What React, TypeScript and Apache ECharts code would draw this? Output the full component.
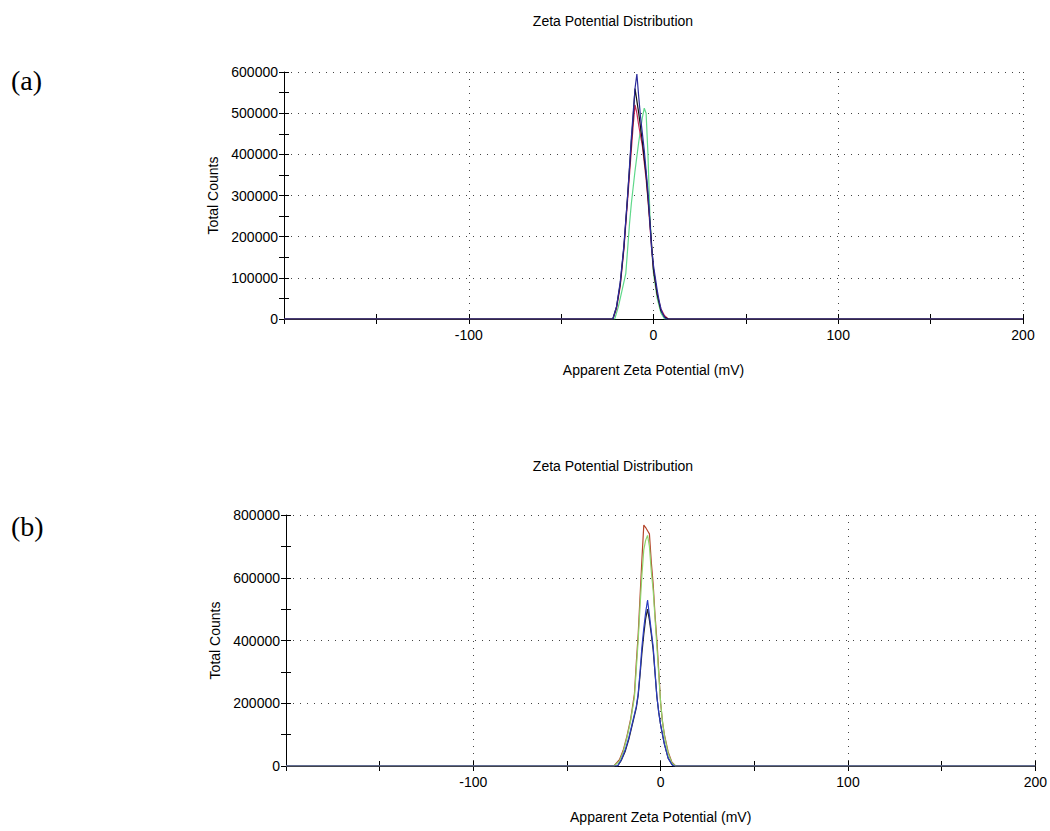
import React, { useEffect, useRef } from "react";
import * as echarts from "echarts";

// ---------- data ----------
const chartTitles = ["Zeta Potential Distribution", "Zeta Potential Distribution"];
const panelLabels = ["(a)", "(b)"];
const xAxisName = "Apparent Zeta Potential (mV)";
const yAxisName = "Total Counts";
const xMin = -200;
const xMax = 200;
const xInterval = 100;
const yMaxA = 600000;
const yIntervalA = 100000;
const yMaxB = 800000;
const yIntervalB = 200000;

// panel (a) runs: [mV, counts]
const aRed: number[][] = [[-200,0],[-22,0],[-20,25000],[-18,80000],[-16,170000],[-14,290000],[-12,410000],[-11,470000],[-10,520000],[-9,500000],[-8,470000],[-6,420000],[-4,340000],[-3,290000],[-2,230000],[-1,170000],[0,120000],[2,60000],[4,25000],[6,8000],[8,0],[200,0]];
const aGreen: number[][] = [[-200,0],[-21,0],[-19,30000],[-17,70000],[-15,110000],[-13,230000],[-12,280000],[-10,360000],[-8,430000],[-6,490000],[-5,512000],[-4,500000],[-3,400000],[-2,260000],[-1,170000],[0,110000],[2,50000],[4,15000],[6,0],[200,0]];
const aBlack: number[][] = [[-200,0],[-22,0],[-20,30000],[-18,85000],[-16,175000],[-14,300000],[-12,430000],[-11,490000],[-10,560000],[-9,530000],[-8,500000],[-6,430000],[-4,350000],[-2,240000],[-1,180000],[0,120000],[2,60000],[4,20000],[6,5000],[8,0],[200,0]];
const aBlue: number[][] = [[-200,0],[-22,0],[-20,30000],[-18,90000],[-16,180000],[-14,300000],[-13,370000],[-12,440000],[-11,500000],[-10,560000],[-9,595000],[-8,540000],[-7,490000],[-6,450000],[-5,410000],[-4,360000],[-3,310000],[-2,240000],[-1,170000],[0,130000],[1,100000],[2,70000],[3,45000],[4,25000],[5,12000],[6,4000],[7,0],[200,0]];

// panel (b) runs
const bRed: number[][] = [[-200,0],[-25,0],[-22,20000],[-20,50000],[-18,95000],[-16,150000],[-15,190000],[-14,230000],[-13,330000],[-12,420000],[-11,540000],[-10,660000],[-9,768000],[-8,760000],[-7,750000],[-6,740000],[-5,650000],[-4,580000],[-3,480000],[-2,400000],[-1,300000],[0,200000],[1,140000],[2,100000],[4,45000],[6,12000],[8,0],[200,0]];
const bGreen: number[][] = [[-200,0],[-25,0],[-22,15000],[-20,45000],[-18,90000],[-16,145000],[-14,220000],[-13,310000],[-12,400000],[-11,510000],[-10,610000],[-9,690000],[-8,720000],[-7,735000],[-6,700000],[-5,620000],[-4,560000],[-3,470000],[-2,380000],[-1,290000],[0,200000],[1,140000],[2,95000],[4,40000],[6,10000],[8,0],[200,0]];
const bBlack: number[][] = [[-200,0],[-23,0],[-21,18000],[-19,45000],[-17,85000],[-15,135000],[-13,185000],[-12,225000],[-11,290000],[-10,360000],[-9,420000],[-8,470000],[-7,500000],[-6,465000],[-5,420000],[-4,370000],[-3,295000],[-2,220000],[-1,170000],[0,130000],[2,70000],[4,25000],[6,5000],[7,0],[200,0]];
const bBlue: number[][] = [[-200,0],[-23,0],[-21,20000],[-19,50000],[-17,90000],[-15,140000],[-13,190000],[-12,230000],[-11,300000],[-10,380000],[-9,440000],[-8,490000],[-7,529000],[-6,480000],[-5,430000],[-4,380000],[-3,300000],[-2,220000],[-1,170000],[0,130000],[2,70000],[4,25000],[6,5000],[7,0],[200,0]];

const FONT = '"Liberation Sans", Arial, sans-serif';

function mkX(gridIndex: number, inside: boolean, nameGap: number) {
  return {
    type: "value",
    gridIndex,
    position: "bottom",
    min: xMin,
    max: xMax,
    interval: xInterval,
    name: inside ? "" : xAxisName,
    nameLocation: "middle",
    nameGap,
    nameTextStyle: { color: "#000", fontSize: 14, fontFamily: FONT },
    axisLine: { show: !inside, onZero: false, lineStyle: { color: "#000", width: 1 } },
    axisTick: { show: true, inside, length: 5, lineStyle: { color: "#000" } },
    minorTick: { show: true, splitNumber: 2, length: 5, lineStyle: { color: "#000" } },
    axisLabel: {
      show: !inside,
      color: "#000",
      fontSize: 14,
      fontFamily: FONT,
      margin: 9,
      formatter: (v: number) => (v === xMin ? "" : String(v)),
    },
    splitLine: { show: !inside, lineStyle: { color: "#444", width: 1, type: [1, 6] } },
  };
}

function mkY(gridIndex: number, inside: boolean, max: number, interval: number) {
  return {
    type: "value",
    gridIndex,
    position: "left",
    min: 0,
    max,
    interval,
    name: inside ? "" : yAxisName,
    nameLocation: "middle",
    nameGap: 64,
    nameTextStyle: { color: "#000", fontSize: 14, fontFamily: FONT },
    axisLine: { show: !inside, onZero: false, lineStyle: { color: "#000", width: 1 } },
    axisTick: { show: true, inside, length: 5, lineStyle: { color: "#000" } },
    minorTick: { show: true, splitNumber: 2, length: 5, lineStyle: { color: "#000" } },
    axisLabel: {
      show: !inside,
      color: "#000",
      fontSize: 14,
      fontFamily: FONT,
      margin: 6,
      formatter: (v: number) => String(v),
    },
    splitLine: { show: !inside, lineStyle: { color: "#444", width: 1, type: [1, 6] } },
  };
}

function line(data: number[][], color: string, xi: number, yi: number) {
  return {
    type: "line",
    data,
    xAxisIndex: xi,
    yAxisIndex: yi,
    showSymbol: false,
    symbol: "none",
    lineStyle: { color, width: 1.2 },
    itemStyle: { color },
    z: 3,
  };
}

const SERIF = '"Liberation Serif", "Times New Roman", serif';

export default function App() {
  const ref = useRef<HTMLDivElement>(null);
  useEffect(() => {
    if (!ref.current) return;
    const chart = echarts.init(ref.current, undefined, { renderer: "svg" });
    chart.setOption({
      animation: false,
      backgroundColor: "#fff",
      grid: [
        { left: 284, top: 72, width: 739, height: 247 },
        { left: 286, top: 515, width: 750, height: 251 },
      ],
      xAxis: [mkX(0, false, 44), mkX(0, true, 44), mkX(1, false, 44), mkX(1, true, 44)],
      yAxis: [
        mkY(0, false, yMaxA, yIntervalA),
        mkY(0, true, yMaxA, yIntervalA),
        mkY(1, false, yMaxB, yIntervalB),
        mkY(1, true, yMaxB, yIntervalB),
      ],
      graphic: [
        { type: "text", x: 613, y: 21, style: { text: chartTitles[0], fontSize: 14, fontFamily: FONT, fill: "#000", align: "center", verticalAlign: "middle" } },
        { type: "text", x: 613, y: 466, style: { text: chartTitles[1], fontSize: 14, fontFamily: FONT, fill: "#000", align: "center", verticalAlign: "middle" } },
        { type: "text", x: 11, y: 80, style: { text: panelLabels[0], fontSize: 28, fontFamily: SERIF, fill: "#000", align: "left", verticalAlign: "middle" } },
        { type: "text", x: 11, y: 526, style: { text: panelLabels[1], fontSize: 28, fontFamily: SERIF, fill: "#000", align: "left", verticalAlign: "middle" } },
      ],
      series: [
        line(aGreen, "#5fd88a", 0, 0),
        line(aRed, "#c8285a", 0, 0),
        line(aBlack, "#111111", 0, 0),
        line(aBlue, "#2b2b9c", 0, 0),
        line(bBlack, "#222222", 2, 2),
        line(bRed, "#b5452a", 2, 2),
        line(bGreen, "#8fd36a", 2, 2),
        line(bBlue, "#2a3cc0", 2, 2),
      ],
    });
    return () => chart.dispose();
  }, []);
  return (
    <div
      ref={ref}
      style={{ position: "absolute", left: 0, top: 0, width: 1050, height: 831 }}
    />
  );
}
